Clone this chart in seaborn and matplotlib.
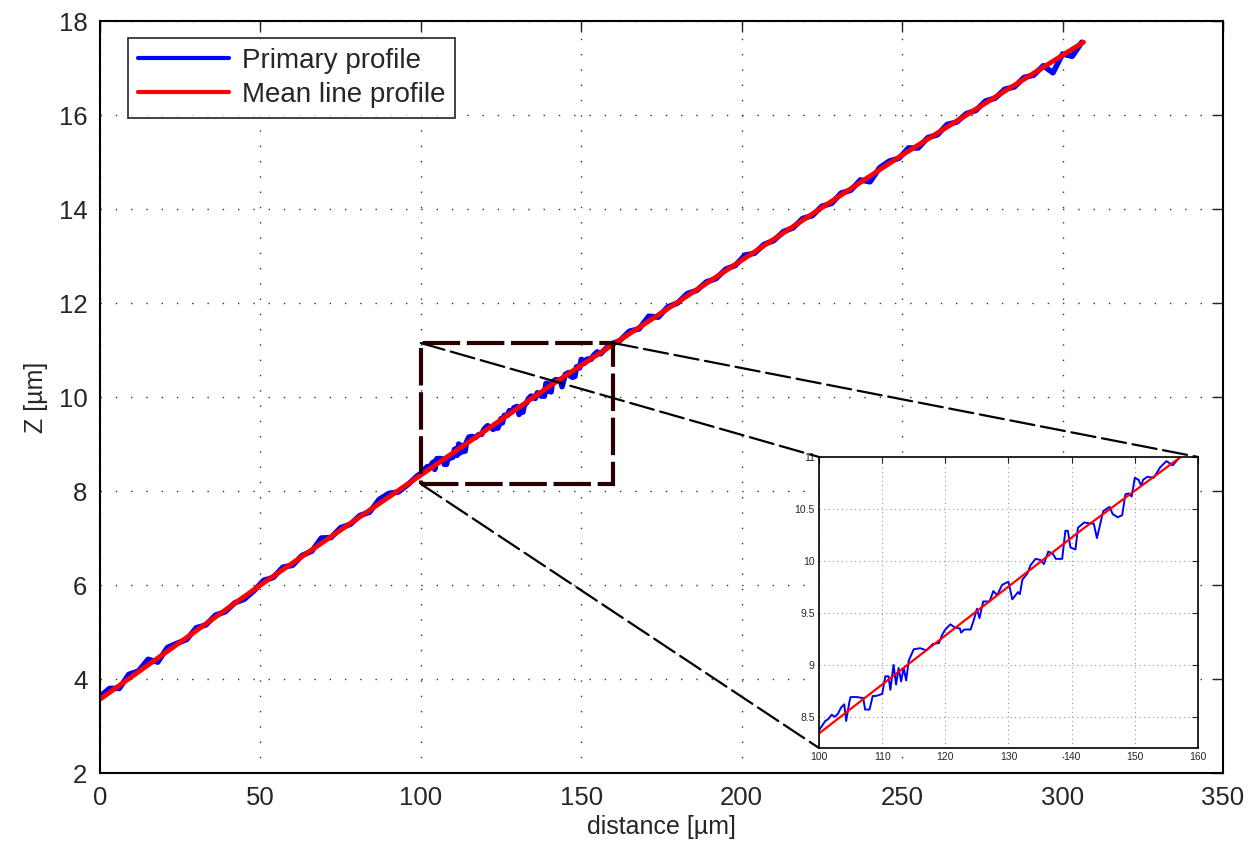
import numpy as np
import pandas as pd
import matplotlib
matplotlib.use("Agg")
import matplotlib.pyplot as plt
from matplotlib.patches import Rectangle, ConnectionPatch
import seaborn as sns

# primary profile, coarse part before the zoomed window
x_start = [0, 3, 6, 9, 12, 15, 18, 21, 24, 27, 30, 33, 36, 39, 42, 45, 48, 51, 54, 57,
           60, 63, 66, 69, 72, 75, 78, 81, 84, 87, 90, 93, 96, 99]
z_start = [3.63, 3.80, 3.80, 4.10, 4.17, 4.42, 4.36, 4.67, 4.76, 4.84, 5.09, 5.15, 5.36, 5.43,
           5.62, 5.70, 5.88, 6.10, 6.16, 6.38, 6.42, 6.63, 6.72, 7.00, 7.01, 7.22, 7.29, 7.48,
           7.55, 7.82, 7.95, 7.98, 8.14, 8.33]

# primary profile, detail inside the zoomed window (100-160 um)
x_zoom = [100, 101, 101.5, 102, 102.5, 103, 103.5, 104, 104.3, 104.8, 105, 106, 107, 107.3,
          108, 108.5, 109, 110, 110.5, 111, 111.3, 111.8, 112.2, 112.6, 113, 113.4, 113.8,
          114.2, 115, 116, 117, 118, 119, 119.5, 120, 120.8, 121.5, 122.3, 122.5, 123, 124,
          124.5, 125, 125.4, 126, 127, 127.6, 128.2, 129, 130, 130.6, 131.5, 131.8, 132.2,
          133, 133.5, 134.3, 135, 135.6, 136.3, 137, 137.5, 138.5, 139, 139.4, 139.8, 140.6,
          141, 142, 143, 143.5, 144, 145, 146, 146.5, 147.3, 148, 148.5, 149, 149.5, 150,
          150.6, 151, 151.3, 152, 153, 154, 155, 156, 157]
z_zoom = [8.37, 8.46, 8.48, 8.52, 8.50, 8.53, 8.59, 8.62, 8.46, 8.64, 8.69, 8.69, 8.68, 8.57,
          8.57, 8.70, 8.70, 8.72, 8.89, 8.89, 8.76, 9.00, 8.81, 8.97, 8.84, 8.97, 8.85,
          9.04, 9.15, 9.16, 9.14, 9.20, 9.21, 9.29, 9.34, 9.39, 9.36, 9.35, 9.31, 9.34, 9.34,
          9.43, 9.54, 9.45, 9.61, 9.61, 9.71, 9.67, 9.77, 9.80, 9.63, 9.70, 9.68, 9.82,
          9.88, 9.96, 10.02, 10.01, 9.97, 10.09, 10.07, 10.02, 10.02, 10.29, 10.29, 10.13, 10.11,
          10.32, 10.37, 10.36, 10.36, 10.22, 10.48, 10.52, 10.45, 10.42, 10.44, 10.64, 10.65, 10.62, 10.80,
          10.78, 10.72, 10.78, 10.81, 10.80, 10.90, 10.96, 10.92, 10.99]

# primary profile, coarse part after the zoomed window
x_end = [159, 162, 165, 168, 171, 174, 177, 180, 183, 186, 189, 192, 195, 198, 201, 204, 207,
         210, 213, 216, 219, 222, 225, 228, 231, 234, 237, 240, 243, 246, 249, 252, 255, 258,
         261, 264, 267, 270, 273, 276, 279, 282, 285, 288, 291, 294, 297, 300, 303, 306]
z_end = [11.12, 11.20, 11.40, 11.45, 11.72, 11.70, 11.92, 12.00, 12.20, 12.27, 12.45, 12.52,
         12.72, 12.80, 13.02, 13.06, 13.25, 13.33, 13.52, 13.60, 13.80, 13.86, 14.06, 14.12,
         14.34, 14.40, 14.62, 14.58, 14.88, 15.02, 15.08, 15.30, 15.30, 15.52, 15.58, 15.80,
         15.85, 16.03, 16.10, 16.30, 16.36, 16.55, 16.60, 16.80, 16.85, 17.05, 16.90, 17.30,
         17.25, 17.55]

# mean line profile
x_mean = [0, 50, 100, 141.6, 200, 250, 306.5]
z_mean = [3.57, 6.0, 8.34, 10.30, 12.91, 15.15, 17.55]

# zoom window
zoom_x = [100, 160]
zoom_z = [8.15, 11.15]

primary = pd.DataFrame({"distance": x_start + x_zoom + x_end,
                        "Z": z_start + z_zoom + z_end})
mean = pd.DataFrame({"distance": x_mean, "Z": z_mean})

sns.set_style("white")
plt.rcParams["font.family"] = ["Liberation Sans", "DejaVu Sans"]

fig = plt.figure(figsize=(12.5, 8.43), dpi=100)
ax = fig.add_axes([0.08, 0.083, 0.8984, 0.892])

sns.lineplot(data=primary, x="distance", y="Z", ax=ax, color="#0000ff", lw=4,
             estimator=None, sort=False, label="Primary profile")
sns.lineplot(data=mean, x="distance", y="Z", ax=ax, color="#ff0000", lw=3.5,
             estimator=None, sort=False, label="Mean line profile")

ax.set_xlim(0, 350)
ax.set_ylim(2, 18)
ax.set_xticks(range(0, 351, 50))
ax.set_yticks(range(2, 19, 2))
ax.set_xlabel("distance [µm]", fontsize=18, labelpad=4)
ax.set_ylabel("Z [µm]", fontsize=18, labelpad=8)
ax.tick_params(direction="in", length=8, width=1, labelsize=18.5, top=True, right=True, pad=9)
ax.grid(True, color="#333333", linestyle=(0, (1, 10)), lw=1.0)
for s in ax.spines.values():
    s.set_color("black")
    s.set_linewidth(1.5)

leg = ax.legend(loc="upper left", fontsize=20, frameon=True, fancybox=False,
                bbox_to_anchor=(0.02, 0.985), borderaxespad=0.2, handlelength=3.3,
                handletextpad=0.45, borderpad=0.35, labelspacing=0.3)
leg.get_frame().set_edgecolor("black")
leg.get_frame().set_linewidth(1.3)
for h in leg.legend_handles:
    h.set_linewidth(3)

# zoom box on the main axes
rect = Rectangle((zoom_x[0], zoom_z[0]), zoom_x[1] - zoom_x[0], zoom_z[1] - zoom_z[0],
                 fill=False, edgecolor="#2a0000", lw=3, linestyle=(0, (9, 1.6)), zorder=5)
ax.add_patch(rect)

# inset
axins = fig.add_axes([0.6552, 0.1127, 0.3032, 0.3452])
sns.lineplot(x=x_zoom, y=z_zoom, ax=axins, color="#0000ff", lw=1.4,
             estimator=None, sort=False)
sns.lineplot(data=mean, x="distance", y="Z", ax=axins, color="#ff0000", lw=1.6,
             estimator=None, sort=False)
axins.set_xlim(100, 160)
axins.set_ylim(8.2, 11)
axins.set_xticks(range(100, 161, 10))
axins.set_yticks([8.5, 9, 9.5, 10, 10.5, 11])
axins.set_yticklabels(["8.5", "9", "9.5", "10", "10.5", "11"])
axins.set_xlabel("")
axins.set_ylabel("")
axins.tick_params(direction="in", length=4, width=0.8, labelsize=7.5, top=True, right=True, pad=3)
axins.grid(True, color="#999999", linestyle=(0, (1, 3)), lw=0.8)
for s in axins.spines.values():
    s.set_color("black")
    s.set_linewidth(1.2)

# connector lines from the zoom box to the inset corners
links = [((zoom_x[0], zoom_z[1]), (0, 1)),
         ((zoom_x[1], zoom_z[1]), (1, 1)),
         ((zoom_x[0], zoom_z[0]), (0, 0))]
for pa, pb in links:
    con = ConnectionPatch(xyA=pa, coordsA="data", axesA=ax,
                          xyB=pb, coordsB="axes fraction", axesB=axins,
                          color="black", lw=1.6, linestyle=(0, (11, 3)), zorder=4)
    fig.add_artist(con)

fig.savefig("out.png", dpi=100)
